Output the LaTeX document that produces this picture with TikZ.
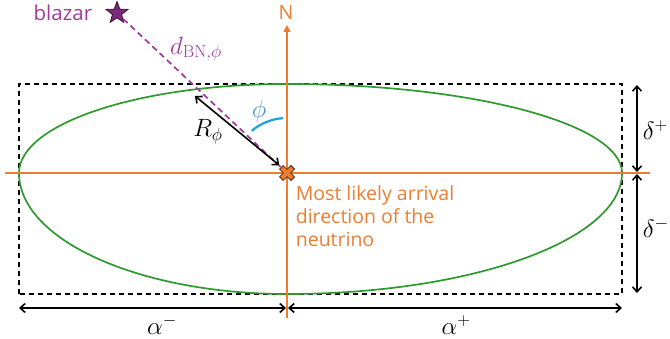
\documentclass[tikz,border=0pt]{standalone}
\usepackage{fix-cm}
\usepackage[no-math]{fontspec}
\setmainfont{Open Sans}
\usetikzlibrary{arrows.meta,shapes.geometric}
\definecolor{dirorange}{HTML}{ED7D31}
\definecolor{ellgreen}{HTML}{2E9A2E}
\definecolor{blzpurple}{HTML}{A23A9E}
\definecolor{starfill}{HTML}{7A2A78}
\definecolor{starline}{HTML}{3A0F3A}
\definecolor{phiblue}{HTML}{1BA1E2}
\definecolor{philabel}{HTML}{4A94DC}
\definecolor{crossline}{HTML}{5A2A10}
\tikzset{
  lbl/.style={font=\fontsize{19.5}{23}\selectfont},
  mlbl/.style={font=\fontsize{25}{29}\selectfont},
  dim/.style={<->, line width=1.6pt}
}
\begin{document}
\begin{tikzpicture}[x=1pt, y=1pt, >={Straight Barb[length=5pt,width=9pt]}, line width=1.7pt]
    \def\Am{268}
    \def\Ap{335}
    \def\Dm{121}
    \def\Dp{89}
    \useasboundingbox (0,0) rectangle (670,338);

    % Centre
    \coordinate (O) at (287,165);

    % Bounding box of the contour
    \draw[dash pattern=on 5pt off 4pt] (19,44) rectangle (622,254);

    % Contour (four quarter ellipses)
    \draw[ellgreen] (622,165)
        arc[start angle=0, end angle=90, x radius=\Ap, y radius=\Dp]
        arc[start angle=90, end angle=180, x radius=\Am, y radius=\Dp]
        arc[start angle=180, end angle=270, x radius=\Am, y radius=\Dm]
        arc[start angle=270, end angle=360, x radius=\Ap, y radius=\Dm];

    % Axes
    \coordinate (W) at (5,165);
    \coordinate (E) at (650,165);
    \coordinate (S) at (287,20);
    \node[dirorange, lbl] (N) at (286,325) {N};
    \draw[dirorange, line width=1.5pt] (W) -- (E);
    \draw[dirorange, line width=1.5pt, -{Triangle[length=7pt,width=7pt]}] (S) -- (287,313);

    % Blazar
    \node[star, star points=5, star point ratio=2.4, minimum size=23pt, inner sep=0pt,
          fill=starfill, draw=starline, line width=0.8pt] (blz) at (117,325) {};
    \node[blzpurple, font=\fontsize{20.5}{24}\selectfont, anchor=east, inner sep=0pt] (blzlbl) at (93,325) {blazar};
    \node[blzpurple, mlbl] (dlbl) at (196,289) {$d_{\mathrm{BN},\phi}$};

    % Most likely direction
    \node[inner sep=0pt, minimum size=14pt] (X) at (O) {};
    \draw[blzpurple, dash pattern=on 6pt off 4pt] (blz) -- (O);
    \draw[crossline, line width=6pt] (281,159) -- (293,171) (281,171) -- (293,159);
    \draw[dirorange, line width=4pt] (281.8,159.8) -- (292.2,170.2) (281.8,170.2) -- (292.2,159.8);
    \node[dirorange, lbl, anchor=north west, align=left, inner sep=0pt] (txt) at (295,153)
        {Most likely arrival\\direction of the\\neutrino};

    % R_phi
    \coordinate (Rtop) at (195,242);
    \draw[dim] (Rtop) -- (X.north west);
    \node[mlbl] (Rlbl) at (208,206) {$R_\phi$};

    % phi
    \draw[phiblue, line width=2.2pt] (O) ++(94:55) arc[start angle=94, end angle=130, radius=55];
    \node[philabel, mlbl] (philbl) at (259,227) {$\phi$};

    % alpha
    \coordinate (aL) at (19,30);
    \coordinate (aM) at (287,30);
    \coordinate (aR) at (622,30);
    \draw[dim] (aL) -- ([xshift=-1pt]aM);
    \draw[dim] ([xshift=1pt]aM) -- (aR);
    \node[mlbl] (am) at (162,13) {$\alpha^-$};
    \node[mlbl] (ap) at (456,13) {$\alpha^+$};

    % delta
    \coordinate (dT) at (637,253);
    \coordinate (dM) at (637,165);
    \coordinate (dB) at (637,45);
    \draw[dim] (dT) -- ([yshift=1pt]dM);
    \draw[dim] ([yshift=-1pt]dM) -- (dB);
    \node[mlbl, anchor=west, inner sep=2pt] (dp) at (640,208) {$\delta^+$};
    \node[mlbl, anchor=west, inner sep=2pt] (dm) at (640,110) {$\delta^-$};
\end{tikzpicture}
\end{document}
